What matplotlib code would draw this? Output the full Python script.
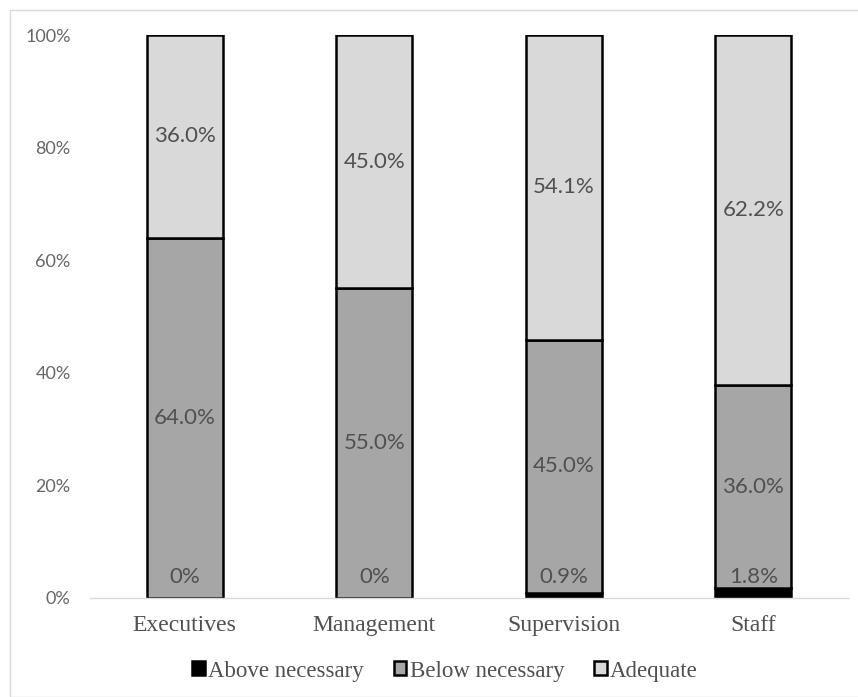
import numpy as np
import matplotlib
matplotlib.use('Agg')
import matplotlib.pyplot as plt
from matplotlib.patches import Rectangle

categories = ['Executives', 'Management', 'Supervision', 'Staff']
above = [0.0, 0.0, 0.9, 1.8]
below = [64.0, 55.0, 45.0, 36.0]
adequate = [36.0, 45.0, 54.1, 62.2]
above_labels = ['0%', '0%', '0.9%', '1.8%']
series_names = ['Above necessary', 'Below necessary', 'Adequate']
yticks = [0, 20, 40, 60, 80, 100]

serif = 'Liberation Serif'
sans = 'Lato'
lab_col = '#505050'

fig = plt.figure(figsize=(8.58, 6.97), dpi=100)
# light outer border like the excel chart area
fig.patches.append(Rectangle((10 / 858, 0), 1.2, 1 - 10 / 697, transform=fig.transFigure,
                             fill=False, edgecolor='#d9d9d9', linewidth=1.0))
ax = fig.add_axes([90 / 858, (697 - 598) / 697, (848 - 90) / 858, (598 - 35) / 697])

x = np.arange(len(categories))
w = 0.40
kw = dict(width=w, edgecolor='black', linewidth=1.8)
b1 = ax.bar(x, above, color='black', label=series_names[0], **kw)
b2 = ax.bar(x, below, bottom=above, color='#a6a6a6', label=series_names[1], **kw)
bot3 = [a + b for a, b in zip(above, below)]
b3 = ax.bar(x, adequate, bottom=bot3, color='#d9d9d9', label=series_names[2], **kw)

for i in range(len(categories)):
    # excel "inside base" label for the thin bottom segment
    ax.text(x[i], 2.0, above_labels[i], ha='center', va='bottom',
            fontsize=16, color=lab_col, family=sans)
    ax.text(x[i], above[i] + below[i] / 2, f'{below[i]:.1f}%', ha='center', va='center',
            fontsize=16, color=lab_col, family=sans)
    ax.text(x[i], bot3[i] + adequate[i] / 2, f'{adequate[i]:.1f}%', ha='center', va='center',
            fontsize=16, color=lab_col, family=sans)

ax.set_xlim(-0.5, len(categories) - 0.5)
ax.set_ylim(0, 100)
ax.set_yticks(yticks)
ax.set_yticklabels([f'{t}%' for t in yticks], fontsize=13, color='#666666', family=sans)
ax.set_xticks(x)
ax.set_xticklabels(categories, fontsize=17, color=lab_col, family=serif)
ax.tick_params(axis='both', length=0)
ax.tick_params(axis='y', pad=14)
ax.tick_params(axis='x', pad=12)
for s in ['top', 'right', 'left']:
    ax.spines[s].set_visible(False)
ax.spines['bottom'].set_color('#d9d9d9')
ax.spines['bottom'].set_linewidth(1.0)

leg = fig.legend(handles=[b1, b2, b3], loc='center', bbox_to_anchor=(445 / 858, 1 - 671 / 697),
                 ncol=3, frameon=False, handlelength=0.55, handleheight=0.55,
                 handletextpad=0.15, columnspacing=1.3,
                 prop={'family': serif, 'size': 16.5})
for t in leg.get_texts():
    t.set_color(lab_col)

fig.savefig('out.png', dpi=100)
